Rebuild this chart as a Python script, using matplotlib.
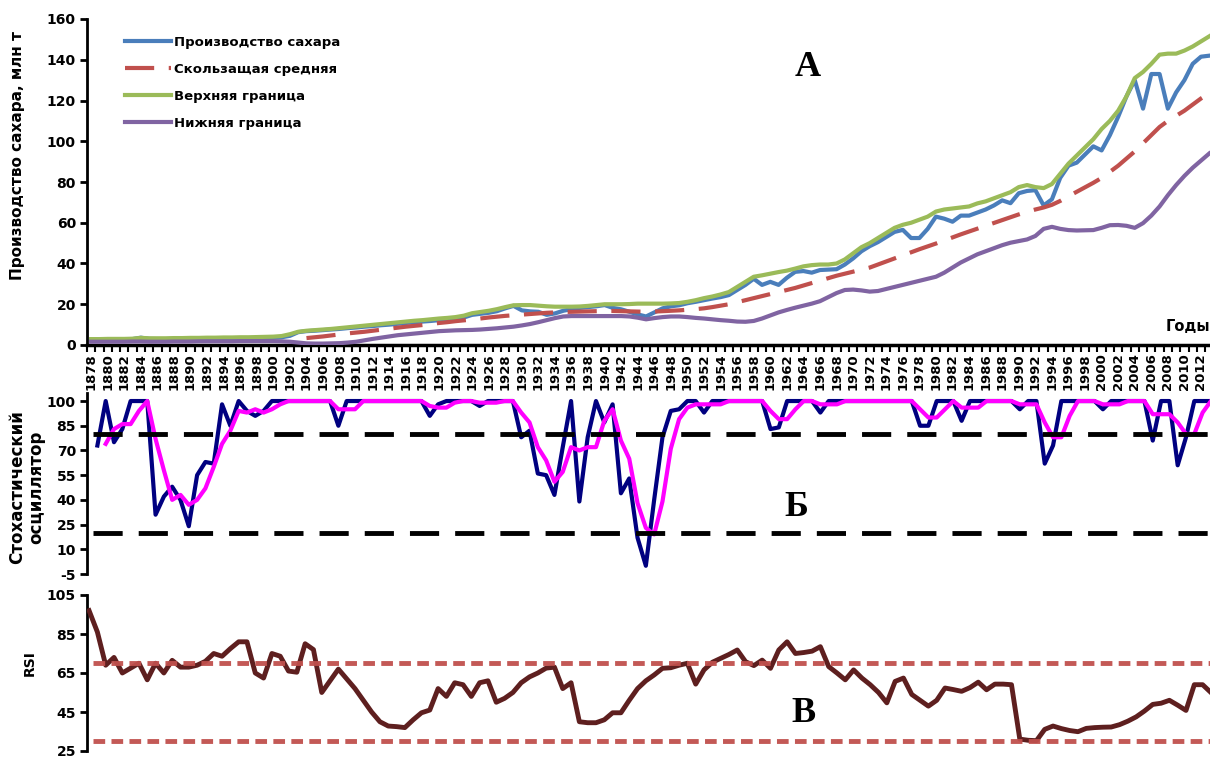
import matplotlib
matplotlib.use('Agg')
import matplotlib.pyplot as plt
import numpy as np

# --- data (1878-2013) ---
years = list(range(1878, 2014))

production = [
    2.6, 2.6, 2.7, 2.7, 2.8, 2.9, 3.6, 3.0, 2.9, 2.9,
    3.0, 3.0, 3.1, 3.1, 3.1, 3.2, 3.2, 3.3, 3.3, 3.4,
    3.4, 3.5, 3.6, 3.8, 4.5, 6.3, 6.8, 7.0, 7.3, 7.6,
    7.9, 8.3, 8.6, 9.0, 9.3, 9.7, 10.0, 10.4, 10.8, 11.2,
    11.5, 11.8, 12.2, 12.6, 13.0, 13.5, 14.8, 15.3, 15.8, 16.6,
    18.0, 19.2, 17.0, 16.5, 16.3, 14.8, 15.5, 16.8, 17.6, 18.2,
    18.6, 19.0, 19.6, 18.2, 17.5, 16.3, 15.0, 14.0, 16.0, 18.0,
    19.0, 19.5, 20.5, 21.2, 22.0, 22.8, 23.5, 24.5, 27.0, 29.5,
    32.5, 29.5, 31.0, 29.5, 33.0, 35.9, 36.3, 35.5, 36.8, 37.0,
    37.2, 39.5, 42.5, 46.0, 48.5, 50.5, 53.0, 55.5, 56.5, 52.5,
    52.5, 57.0, 63.0, 62.0, 60.5, 63.5, 63.5, 65.0, 66.5, 68.5,
    71.0, 69.6, 74.5, 75.6, 76.0, 68.5, 71.5, 82.0, 88.0, 89.5,
    93.5, 97.5, 95.5, 103.0, 112.0, 122.0, 130.0, 116.0, 133.0, 133.0,
    116.0, 124.0, 130.0, 138.0, 141.5, 142.0,
]

moving_avg = [None] * 26 + [
    3.4, 3.8, 4.2, 4.7,
    5.2, 5.7, 6.1, 6.5, 7.0, 7.5, 8.0, 8.5, 9.0, 9.4,
    9.8, 10.3, 10.8, 11.2, 11.7, 12.1, 12.5, 13.0, 13.5, 13.9,
    14.3, 14.6, 14.9, 15.2, 15.5, 15.8, 16.0, 16.2, 16.3, 16.4,
    16.5, 16.6, 16.7, 16.7, 16.6, 16.5, 16.4, 16.3, 16.4, 16.6,
    16.8, 17.0, 17.3, 17.6, 18.0, 18.6, 19.3, 20.0, 21.0, 22.0,
    23.0, 24.0, 25.0, 26.0, 27.0, 28.0, 29.2, 30.4, 31.6, 32.8,
    34.0, 35.0, 36.0, 37.0, 38.0, 39.5, 41.0, 42.5, 44.0, 45.5,
    47.0, 48.4, 49.8, 51.3, 52.8, 54.3, 55.7, 57.1, 58.5, 59.9,
    61.3, 62.7, 64.1, 65.4, 66.5, 67.5, 68.8, 70.7, 73.0, 75.2,
    77.4, 79.6, 82.0, 85.0, 88.0, 91.5, 95.0, 99.0, 103.0, 107.0,
    110.0, 112.5, 115.0, 118.0, 121.0, 123.5,
]

upper_band = [
    2.9, 2.9, 3.0, 3.0, 3.0, 3.1, 3.5, 3.3, 3.3, 3.3,
    3.4, 3.4, 3.5, 3.5, 3.6, 3.6, 3.7, 3.7, 3.8, 3.8,
    3.9, 4.0, 4.1, 4.4, 5.3, 6.5, 7.0, 7.3, 7.6, 7.9,
    8.3, 8.7, 9.1, 9.5, 9.9, 10.3, 10.7, 11.1, 11.5, 11.9,
    12.2, 12.6, 13.0, 13.3, 13.7, 14.4, 15.6, 16.2, 16.8, 17.6,
    18.6, 19.5, 19.6, 19.6, 19.3, 19.0, 18.8, 18.8, 18.8, 18.9,
    19.2, 19.6, 20.0, 20.0, 20.0, 20.1, 20.3, 20.3, 20.3, 20.3,
    20.4, 20.6, 21.2, 22.0, 23.0, 23.8, 24.8, 26.0, 28.5, 31.0,
    33.5, 34.2, 35.0, 35.8, 36.5, 37.5, 38.6, 39.2, 39.5, 39.5,
    40.0, 42.0, 45.0, 48.0, 50.0, 52.5, 55.0, 57.5, 59.0, 60.0,
    61.5, 63.0, 65.5, 66.5, 67.0, 67.5, 68.0, 69.5, 70.5, 72.0,
    73.5, 75.0, 77.5, 78.5, 77.5, 77.0, 79.0, 84.0, 89.0, 93.0,
    97.0, 101.0, 106.0, 110.0, 115.0, 122.0, 131.0, 134.0, 138.0, 142.5,
    143.0, 143.0, 144.5, 146.5, 149.0, 151.5,
]

lower_band = [
    1.6, 1.6, 1.6, 1.6, 1.6, 1.7, 1.7, 1.6, 1.6, 1.6,
    1.7, 1.7, 1.7, 1.8, 1.8, 1.8, 1.8, 1.8, 1.9, 1.9,
    1.9, 1.9, 1.9, 1.8, 1.6, 1.2, 0.8, 0.7, 0.7, 0.8,
    0.9, 1.2, 1.6, 2.3, 3.0, 3.6, 4.2, 4.8, 5.2, 5.6,
    6.0, 6.4, 6.8, 7.0, 7.2, 7.3, 7.4, 7.6, 7.9, 8.2,
    8.6, 9.0, 9.6, 10.3, 11.2, 12.2, 13.2, 14.0, 14.2, 14.2,
    14.2, 14.2, 14.2, 14.2, 14.2, 14.0, 13.4, 12.6, 13.2, 13.7,
    14.0, 14.0, 13.7, 13.3, 13.0, 12.6, 12.2, 11.9, 11.5, 11.4,
    11.8, 13.0, 14.5, 16.0, 17.2, 18.3, 19.3, 20.3, 21.5, 23.5,
    25.5, 27.0, 27.2, 26.8, 26.2, 26.5, 27.5, 28.5, 29.5, 30.5,
    31.5, 32.5, 33.5, 35.5, 38.0, 40.5, 42.5, 44.5, 46.0, 47.5,
    49.0, 50.2, 51.0, 51.8, 53.5, 57.0, 58.0, 57.0, 56.4, 56.2,
    56.3, 56.4, 57.5, 58.8, 58.9, 58.5, 57.5, 59.8, 63.5, 68.0,
    73.5, 78.5, 83.0, 87.0, 90.5, 94.0,
]

stoch_k = [
    None, 73, 100, 75, 83, 100, 100, 100, 31, 42,
    48, 40, 24, 55, 63, 62, 98, 85, 100, 94,
    91, 94, 100, 100, 100, 100, 100, 100, 100, 100,
    85, 100, 100, 100, 100, 100, 100, 100, 100, 100,
    100, 91, 98, 100, 100, 100, 100, 97, 100, 100,
    100, 100, 78, 82, 56, 55, 43, 72, 100, 39,
    78, 100, 87, 98, 44, 53, 17, 0, 40, 78,
    94, 95, 100, 100, 93, 100, 100, 100, 100, 100,
    100, 100, 83, 84, 100, 100, 100, 100, 93, 100,
    100, 100, 100, 100, 100, 100, 100, 100, 100, 100,
    85, 85, 100, 100, 100, 88, 100, 100, 100, 100,
    100, 100, 95, 100, 100, 62, 73, 100, 100, 100,
    100, 100, 95, 100, 100, 100, 100, 100, 76, 100,
    100, 61, 78, 100, 100, 100,
]

stoch_d = [
    None, None, 74, 83, 86, 86, 94, 100, 77, 58,
    40, 43, 37, 40, 47, 60, 74, 82, 94, 93,
    95, 93, 95, 98, 100, 100, 100, 100, 100, 100,
    95, 95, 95, 100, 100, 100, 100, 100, 100, 100,
    100, 97, 96, 96, 99, 100, 100, 99, 99, 99,
    100, 100, 93, 87, 72, 64, 51, 57, 72, 70,
    72, 72, 88, 95, 76, 65, 38, 23, 19, 39,
    71, 89, 96, 98, 98, 98, 98, 100, 100, 100,
    100, 100, 94, 89, 89, 95, 100, 100, 98, 98,
    98, 100, 100, 100, 100, 100, 100, 100, 100, 100,
    95, 90, 90, 95, 100, 96, 96, 96, 100, 100,
    100, 100, 98, 98, 98, 87, 78, 78, 91, 100,
    100, 100, 98, 98, 98, 100, 100, 100, 92, 92,
    92, 87, 80, 80, 93, 100,
]

rsi = [
    97, 86, 69, 73, 65, 67.5, 70, 61.5, 70, 65,
    71.5, 68, 68, 69, 71, 75, 73.6, 77.5, 81, 81,
    65, 62.4, 75, 73.6, 66, 65.4, 80, 77, 55, 61,
    67, 62, 57, 51, 45, 40, 37.8, 37.5, 37, 41,
    44.6, 46, 57, 53, 60, 59, 53, 60, 61, 50,
    52, 55, 60, 63, 65, 67.5, 68, 57, 60, 40,
    39.5, 39.5, 41, 44.6, 44.6, 51, 57, 61, 64, 67.4,
    67.7, 69, 70, 59.3, 66.6, 70.5, 72.5, 74.5, 76.8, 70.8,
    68.8, 71.6, 67.4, 76.8, 81, 75, 75.5, 76.2, 78.5, 68.3,
    65, 61.5, 66.6, 62.4, 59, 55, 49.7, 60.7, 62.4, 54,
    51, 48, 51, 57.3, 56.5, 55.6, 57.5, 60.3, 56.4, 59.3,
    59.3, 59, 31.1, 30.5, 30.3, 36.1, 37.8, 36.5, 35.5, 34.9,
    36.6, 37, 37.2, 37.3, 38.5, 40.3, 42.5, 45.5, 48.9, 49.5,
    51, 48.5, 45.8, 59, 59, 55,
]

stoch_levels = [80, 20]
rsi_levels = [70, 30]


def arr(v):
    return np.array([np.nan if x is None else x for x in v], dtype=float)


# --- figure ---
W, H = 1210, 758
plt.rcParams['font.family'] = 'DejaVu Sans'
plt.rcParams['font.weight'] = 'bold'
plt.rcParams['axes.unicode_minus'] = False
fig = plt.figure(figsize=(W / 100, H / 100), dpi=100)

x0, x1 = 1877.75, 2013.3
ax_left = 87 / W
ax_w = (x1 - x0) * 8.31 / W


def place(top_px, bottom_px):
    return [ax_left, 1 - bottom_px / H, ax_w, (bottom_px - top_px) / H]


axA = fig.add_axes(place(19, 345))
axB = fig.add_axes(place(392.8, 574))
axC = fig.add_axes(place(595, 751))

for ax in (axA, axB, axC):
    ax.set_xlim(x0, x1)
    for s in ('top', 'right'):
        ax.spines[s].set_visible(False)
    ax.spines['left'].set_linewidth(2.0)
    ax.tick_params(axis='y', length=5, width=2, pad=3, labelsize=10)

# --- panel A ---
axA.plot(years, production, color='#4A7EBB', lw=3, label='Производство сахара', zorder=3)
axA.plot(years, arr(moving_avg), color='#C0504D', lw=3, dashes=(7, 3.5),
         label='Скользащая средняя', zorder=3)
axA.plot(years, upper_band, color='#9BBB59', lw=3, label='Верхняя граница', zorder=3)
axA.plot(years, lower_band, color='#8064A2', lw=3, label='Нижняя граница', zorder=3)
axA.set_ylim(0, 160)
axA.set_yticks(range(0, 161, 20))
axA.spines['bottom'].set_linewidth(2.5)
axA.set_xticks(years[::2])
axA.set_xticklabels([str(y) for y in years[::2]], rotation=90, fontsize=9.5, fontweight='bold')
axA.tick_params(axis='x', which='major', length=0, pad=6)
axA.set_xticks(np.arange(1877.5, 2014, 1), minor=True)
axA.tick_params(axis='x', which='minor', length=5, width=1.5)
axA.text(1.0 - 3 / 1126, 0.035, 'Годы', transform=axA.transAxes, ha='right', va='bottom',
         fontsize=10.5, fontweight='bold')
leg = axA.legend(loc='upper left', bbox_to_anchor=(38 / 1126, 0.948), frameon=False,
                 fontsize=9.5, handlelength=3.5, handletextpad=0.2, labelspacing=1.05,
                 borderpad=0, borderaxespad=0)
for t in leg.get_texts():
    t.set_fontweight('bold')

# --- panel B ---
axB.plot(years, arr(stoch_k), color='#000080', lw=3, zorder=3)
axB.plot(years, arr(stoch_d), color='#FF00FF', lw=3, zorder=4)
for lv in stoch_levels:
    axB.axhline(lv, xmin=0.005, color='black', lw=3.5, dashes=(6, 3.3), zorder=5)
axB.set_ylim(-5, 105)
axB.set_yticks(range(-5, 101, 15))
axB.spines['bottom'].set_visible(False)
axB.set_xticks([])

# --- panel C ---
axC.plot(years, rsi, color='#5E1F1F', lw=3.5, zorder=3)
for lv in rsi_levels:
    axC.axhline(lv, xmin=0.005, color='#C0504D', lw=3.5, dashes=(2.4, 1.3), zorder=4, alpha=0.95)
axC.set_ylim(25, 105)
axC.set_yticks(range(25, 106, 20))
axC.spines['bottom'].set_visible(False)
axC.set_xticks([])

# --- axis titles and panel letters ---
fig.text(18 / W, 1 - 156 / H, 'Производство сахара, млн т', rotation=90, ha='center', va='center',
         fontsize=11, fontweight='bold')
fig.text(27 / W, 1 - 487 / H, 'Стохастический\nосциллятор', rotation=90, ha='center', va='center',
         fontsize=12, fontweight='bold', linespacing=1.1)
fig.text(30 / W, 1 - 663 / H, 'RSI', rotation=90, ha='center', va='center',
         fontsize=10, fontweight='bold')

serif = 'Liberation Serif'
fig.text(808 / W, 1 - 68 / H, 'А', ha='center', va='center', fontsize=26,
         fontweight='bold', family=serif)
fig.text(796 / W, 1 - 508 / H, 'Б', ha='center', va='center', fontsize=26,
         fontweight='bold', family=serif)
fig.text(804 / W, 1 - 713 / H, 'В', ha='center', va='center', fontsize=26,
         fontweight='bold', family=serif)

fig.savefig('out.png', dpi=100)
